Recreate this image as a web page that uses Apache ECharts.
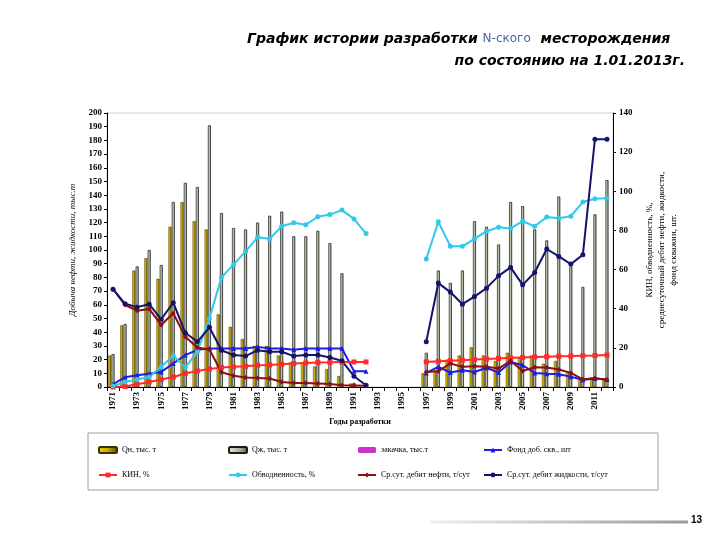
<!DOCTYPE html>
<html>
<head>
<meta charset="utf-8">
<script src="https://cdn.jsdelivr.net/npm/echarts@6/dist/echarts.min.js"></script>
<style>
  html, body { margin: 0; padding: 0; background: #fff; }
  #chart { width: 720px; height: 540px; }
</style>
</head>
<body>
<div id="chart"></div>
<script>
// годы разработки
const years = ['1971', '1972', '1973', '1974', '1975', '1976', '1977', '1978', '1979', '1980',
  '1981', '1982', '1983', '1984', '1985', '1986', '1987', '1988', '1989', '1990',
  '1991', '1992', '1993', '1994', '1995', '1996', '1997', '1998', '1999', '2000',
  '2001', '2002', '2003', '2004', '2005', '2006', '2007', '2008', '2009', '2010',
  '2011', '2012']

// добыча нефти, тыс.т (левая ось)
const qOil = [23, 45, 85, 94, 79, 117, 135, 121, 115, 53,
  44, 35, 30, 30, 23, 18, 18, 15, 13, 8,
  2.5, null, null, null, null, null, 10, 12, 20, 23,
  29, 23, 19, 25, 21, 23, 17, 19, 11, 5,
  7, 6]
// добыча жидкости, тыс.т (левая ось)
const qLiq = [24, 46, 88, 100, 89, 135, 149, 146, 191, 127,
  116, 115, 120, 125, 128, 110, 110, 114, 105, 83,
  3, null, null, null, null, null, 25, 85, 76, 85,
  121, 117, 104, 135, 132, 115, 107, 139, 88, 73,
  126, 151]
// закачка, тыс.т - данных нет
const inject = []

// фонд доб. скв., шт (правая ось)
const wells = [1.4, 5, 6, 6.8, 7.7, 12, 16.3, 19, 19.7, 19.7,
  19.7, 19.7, 20.5, 19.7, 19.7, 19, 19.7, 19.7, 19.7, 19.7,
  8.1, 8, null, null, null, null, 7.2, 10.3, 7.4, 8.6,
  7.7, 9.8, 7.4, 12.8, 11.1, 7.2, 6.8, 6.5, 5.3, 3.6,
  4.3, 3.8]
// КИН, %
const kin = [0, 0.3, 1.4, 2.6, 3.8, 5.1, 6.9, 8.2, 9.2, 10,
  10.3, 10.6, 11.1, 11.3, 11.6, 12, 12.3, 12.5, 12.6, 12.8,
  12.8, 12.8, null, null, null, null, 12.8, 13.1, 13.4, 13.7,
  14, 14.3, 14.6, 14.9, 15.1, 15.3, 15.5, 15.7, 15.8, 16,
  16.1, 16.3]
// обводненность, %
const waterCut = [0.5, 2.6, 3.8, 5.1, 10.3, 16, 10, 18, 35, 56,
  62.5, 69.3, 76.5, 75.7, 82.1, 83.9, 82.9, 87, 88.1, 90.4,
  85.9, 78.4, null, null, null, null, 65.4, 84.4, 71.9, 71.9,
  75.7, 79.6, 81.6, 81, 84.7, 82.1, 86.8, 86.2, 87.3, 94.5,
  96.2, 96.5]
// ср.сут. дебит нефти, т/сут
const oilRate = [50, 41.9, 39, 39.9, 31.7, 37.7, 25.7, 20.2, 19.2, 7.5,
  5.8, 4.8, 4.6, 4.3, 2.6, 2, 2, 1.8, 1.5, 0.9,
  0.8, 0.7, null, null, null, null, 7.7, 8.1, 12, 10.3,
  10.6, 10.3, 9.4, 13.4, 8.2, 10.1, 10, 8.9, 7.2, 3.9,
  4.5, 3.7]
// ср.сут. дебит жидкости, т/сут
const liqRate = [50, 42.5, 40.8, 42.3, 34.6, 43.1, 27.7, 23.1, 30.5, 18.8,
  16.3, 15.8, 18.8, 18, 18, 15.8, 16.3, 16.3, 15.1, 13.4,
  5.5, 0.9, null, null, null, null, 23.1, 53.1, 48.5, 42.3,
  46.2, 50.5, 56.8, 61.1, 52.2, 58.5, 70.5, 66.7, 62.8, 67.6,
  126.6, 126.6]

const serif = '"Liberation Serif", "DejaVu Serif", serif'
const titleFont = '"DejaVu Sans", sans-serif'

function lineSeries(name, data, color, symbol) {
  return {
    name: name,
    type: 'line',
    yAxisIndex: 1,
    data: data,
    symbol: symbol,
    symbolSize: 5,
    connectNulls: false,
    lineStyle: { color: color, width: 2 },
    itemStyle: { color: color },
    z: 5
  }
}

const legendText = { fontFamily: serif, fontSize: 8, color: '#000' }

const option = {
  animation: false,
  backgroundColor: '#fff',
  title: [
    {
      text: '{b|График истории разработки }{n|N-ского}{b|  месторождения}',
      left: 242,
      top: 27,
      textStyle: {
        rich: {
          b: { fontFamily: titleFont, fontStyle: 'italic', fontWeight: 'bold', fontSize: 14, color: '#000' },
          n: { fontFamily: titleFont, fontStyle: 'normal', fontWeight: 'normal', fontSize: 12, color: '#4a64ad' }
        }
      }
    },
    {
      text: 'по состоянию на 1.01.2013г.',
      right: 30,
      top: 49,
      textStyle: { fontFamily: titleFont, fontStyle: 'italic', fontWeight: 'bold', fontSize: 14, color: '#000' }
    }
  ],
  grid: {
    left: 107,
    right: 107,
    top: 113,
    bottom: 153,
    show: true,
    borderColor: '#cfcfcf',
    borderWidth: 1
  },
  legend: [
    { data: ['Qн, тыс. т', 'КИН, %'], left: 93, top: 441 },
    { data: ['Qж, тыс. т', 'Обводненность, %'], left: 223, top: 441 },
    { data: ['закачка, тыс.т', 'Ср.сут. дебит нефти, т/сут'], left: 352, top: 441 },
    { data: ['Фонд доб. скв., шт', 'Ср.сут. дебит жидкости, т/сут'], left: 478, top: 441 }
  ].map(l => Object.assign({
    orient: 'vertical',
    itemGap: 17,
    itemWidth: 18,
    itemHeight: 6,
    textStyle: legendText
  }, l)),
  xAxis: {
    type: 'category',
    data: years,
    name: 'Годы разработки',
    nameLocation: 'middle',
    nameGap: 24,
    nameTextStyle: { fontFamily: serif, fontWeight: 'bold', fontSize: 8, color: '#000' },
    axisLine: { lineStyle: { color: '#000', width: 1 } },
    axisTick: { show: true, interval: 0, length: 4, lineStyle: { color: '#000' } },
    axisLabel: { interval: 1, rotate: 90, fontFamily: serif, fontWeight: 'bold', fontSize: 9, color: '#000', margin: 5 }
  },
  yAxis: [
    {
      type: 'value',
      min: 0,
      max: 200,
      interval: 10,
      name: 'Добыча нефти, жидкости, тыс.т',
      nameLocation: 'middle',
      nameGap: 30,
      nameTextStyle: { fontFamily: serif, fontStyle: 'italic', fontSize: 9, color: '#000' },
      axisLine: { show: true, lineStyle: { color: '#000' } },
      axisTick: { show: true, length: 3, lineStyle: { color: '#000' } },
      splitLine: { show: false },
      axisLabel: { fontFamily: serif, fontWeight: 'bold', fontSize: 9, color: '#000', margin: 5 }
    },
    {
      type: 'value',
      min: 0,
      max: 140,
      interval: 20,
      position: 'right',
      name: 'КИН, обводненность, %,\nсреднесуточный дебит нефти, жидкости,\nфонд скважин, шт.',
      nameLocation: 'middle',
      nameRotate: 90,
      nameGap: 30,
      nameTextStyle: { fontFamily: serif, fontSize: 9, color: '#000', lineHeight: 12 },
      axisLine: { show: true, lineStyle: { color: '#000' } },
      axisTick: { show: true, length: 3, lineStyle: { color: '#000' } },
      splitLine: { show: false },
      axisLabel: { fontFamily: serif, fontWeight: 'bold', fontSize: 9, color: '#000', margin: 6 }
    }
  ],
  series: [
    {
      name: 'Qн, тыс. т',
      type: 'bar',
      data: qOil,
      barWidth: 3,
      barGap: '10%',
      itemStyle: {
        color: new echarts.graphic.LinearGradient(0, 0, 1, 0, [
          { offset: 0, color: '#f2d400' },
          { offset: 0.5, color: '#c9a700' },
          { offset: 1, color: '#5a4800' }
        ]),
        borderColor: '#3a3000',
        borderWidth: 0.5
      }
    },
    {
      name: 'Qж, тыс. т',
      type: 'bar',
      data: qLiq,
      barWidth: 3,
      barGap: '10%',
      itemStyle: {
        color: new echarts.graphic.LinearGradient(0, 0, 1, 0, [
          { offset: 0, color: '#e8ece0' },
          { offset: 0.6, color: '#a8b498' },
          { offset: 1, color: '#4a5640' }
        ]),
        borderColor: '#1a1a1a',
        borderWidth: 0.7
      }
    },
    {
      name: 'закачка, тыс.т',
      type: 'bar',
      data: inject,
      barWidth: 3,
      barGap: '10%',
      itemStyle: { color: '#cc33cc' }
    },
    lineSeries('Фонд доб. скв., шт', wells, '#1c1ce6', 'triangle'),
    lineSeries('КИН, %', kin, '#ff2a2a', 'rect'),
    lineSeries('Обводненность, %', waterCut, '#33c8e8', 'circle'),
    lineSeries('Ср.сут. дебит нефти, т/сут', oilRate, '#8e0f0f', 'diamond'),
    lineSeries('Ср.сут. дебит жидкости, т/сут', liqRate, '#14146e', 'circle')
  ],
  graphic: [
    {
      type: 'rect',
      shape: { x: 88, y: 433, width: 570, height: 57 },
      style: { fill: 'none', stroke: '#a0a0a0', lineWidth: 1 },
      silent: true
    },
    {
      type: 'line',
      shape: { x1: 430, y1: 522, x2: 688, y2: 522 },
      style: {
        stroke: new echarts.graphic.LinearGradient(0, 0, 1, 0, [
          { offset: 0, color: '#f0f0f0' },
          { offset: 1, color: '#9a9a9a' }
        ]),
        lineWidth: 3
      },
      silent: true
    },
    {
      type: 'text',
      left: 691,
      top: 515,
      style: { text: '13', font: 'bold 10px "Liberation Sans", sans-serif', fill: '#000' },
      silent: true
    }
  ]
}

const myChart = echarts.init(document.getElementById('chart'))
myChart.setOption(option)
</script>
</body>
</html>
